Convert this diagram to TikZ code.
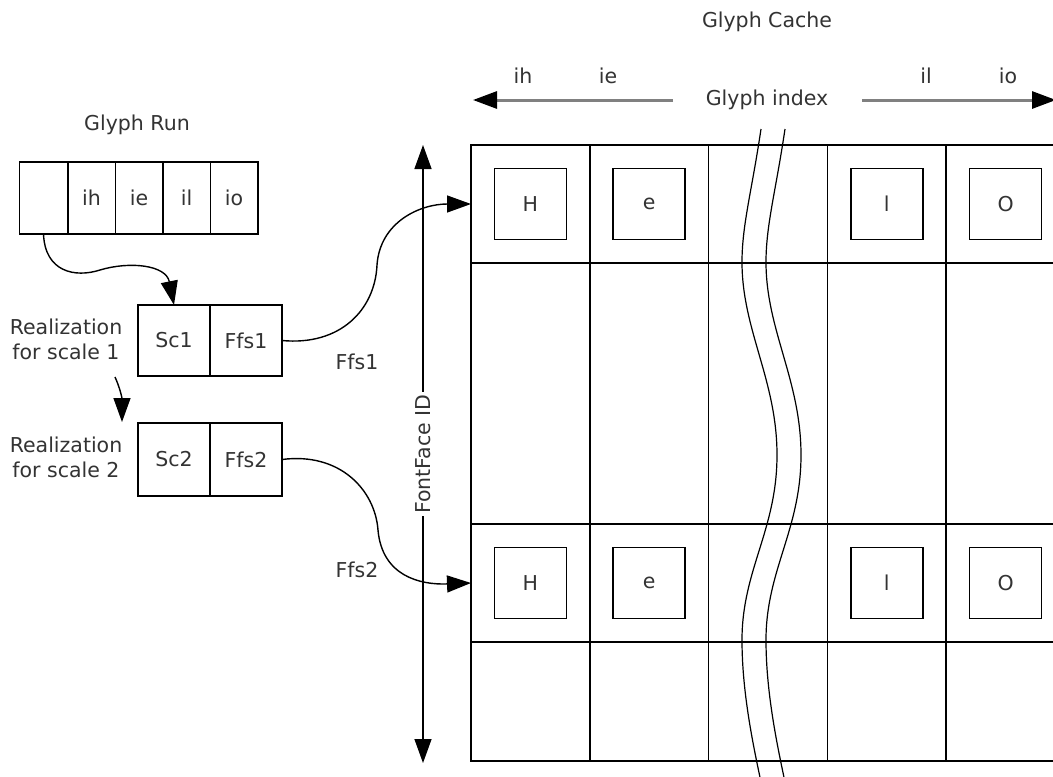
\documentclass[tikz,border=0pt]{standalone}
\usepackage{fontspec}
\setmainfont{DejaVu Sans}
\usetikzlibrary{arrows.meta}
\definecolor{txt}{HTML}{333333}
\definecolor{idx}{HTML}{808080}
\begin{document}
\begin{tikzpicture}[x=1pt,y=-1pt,
  every node/.style={font=\fontsize{20.5}{25}\selectfont, text=txt},
  cell/.style={draw=black, line width=1.5pt, minimum width=#1, minimum height=72pt, inner sep=0pt, outer sep=0pt},
  gcell/.style={draw=black, line width=1.6pt, minimum width=118.8pt, inner sep=0pt, outer sep=0pt},
  gbox/.style={draw=black, line width=1.5pt, minimum width=72pt, minimum height=71pt, inner sep=0pt, outer sep=0pt},
  conn/.style={draw=black, line width=1.4pt, -{Triangle[length=24pt,width=17pt]}},
  dblconn/.style={draw=black, line width=1.4pt, {Triangle[length=24pt,width=17pt]}-{Triangle[length=24pt,width=17pt]}},
  idxconn/.style={draw=idx, line width=3pt, -{Triangle[length=24pt,width=17pt,color=black]}},
  wave/.style={draw=black, line width=1.2pt},
  lbl/.style={inner sep=0pt}
]
\useasboundingbox[fill=white] (0,0) rectangle (1053,777);

% titles
\node[lbl] (gruntitle) at (137,125) {Glyph Run};
\node[lbl] (gcachetitle) at (767,22) {Glyph Cache};

% glyph run cells
\node[cell=48pt] (gr0) at (43.5,198) {};
\node[cell=47.5pt] (gr1) at (91.5,198) {ih};
\node[cell=47.5pt] (gr2) at (139,198) {ie};
\node[cell=47.5pt] (gr3) at (186.5,198) {il};
\node[cell=47.5pt] (gr4) at (234,198) {io};

% realizations
\node[cell=72pt, minimum height=71pt] (sc1) at (174,340.5) {Sc1};
\node[cell=72pt, minimum height=71pt] (ffs1) at (246,340.5) {Ffs1};
\node[cell=72pt, minimum height=73pt] (sc2) at (174,459.5) {Sc2};
\node[cell=72pt, minimum height=73pt] (ffs2) at (246,459.5) {Ffs2};

\node[lbl, align=center] (real1) at (66,339.5) {Realization\\for scale 1};
\node[lbl, align=center] (real2) at (66,457.5) {Realization\\for scale 2};

\node[lbl] (ffs1lbl) at (357,362) {Ffs1};
\node[lbl] (ffs2lbl) at (357,570) {Ffs2};

% grid
\foreach \c in {0,...,4} {
  \node[gcell, minimum height=118pt] (ga\c) at ({471+118.8*\c+59.4},204) {};
  \node[gcell, minimum height=261pt] (gb\c) at ({471+118.8*\c+59.4},393.5) {};
  \node[gcell, minimum height=118pt] (gc\c) at ({471+118.8*\c+59.4},583) {};
  \node[gcell, minimum height=119pt] (gd\c) at ({471+118.8*\c+59.4},701.5) {};
}
\node[gbox] (h1) at (ga0) {H};
\node[gbox] (e1) at (ga1) {e};
\node[gbox] (l1) at (ga3) {l};
\node[gbox] (o1) at (ga4) {O};
\node[gbox] (h2) at (gc0) {H};
\node[gbox] (e2) at (gc1) {e};
\node[gbox] (l2) at (gc3) {l};
\node[gbox] (o2) at (gc4) {O};

% break lines
\draw[wave] (761,129) .. controls (752,190) and (742,225) .. (742,262)
  .. controls (742,330) and (777,380) .. (777,455)
  .. controls (777,530) and (742,570) .. (742,640)
  .. controls (742,690) and (752,740) .. (761,782);
\draw[wave] (785,129) .. controls (776,190) and (766,225) .. (766,262)
  .. controls (766,330) and (801,380) .. (801,455)
  .. controls (801,530) and (766,570) .. (766,640)
  .. controls (766,690) and (776,740) .. (785,782);

% glyph index axis
\node[lbl] (gidx) at (767,100) {Glyph index};
\coordinate (gidxl0) at (673,100);
\coordinate (gidxl1) at (473,100);
\coordinate (gidxr0) at (862,100);
\coordinate (gidxr1) at (1056,100);
\draw[idxconn] (gidxl0) -- (gidxl1);
\draw[idxconn] (gidxr0) -- (gidxr1);
\node[lbl] (tih) at (523,76) {ih};
\node[lbl] (tie) at (608,76) {ie};
\node[lbl] (til) at (926,76) {il};
\node[lbl] (tio) at (1008,76) {io};

% fontface axis
\coordinate (fidtop) at (423,145);
\coordinate (fidbot) at (423,763);
\draw[dblconn] (fidtop) -- node[fill=white, rotate=90, inner sep=2pt] (fid) {FontFace ID} (fidbot);

% connectors
\draw[conn] (gr0.south) .. controls (45,272) and (75,278) .. (100,270)
  .. controls (130,261) and (166,265) .. (sc1.north);
\coordinate (r1a) at (115,377);
\coordinate (r1b) at (122,422);
\draw[conn] (r1a) .. controls (120,388) and (122,398) .. (r1b);
\draw[conn] (ffs1.east) .. controls (340,346) and (375,310) .. (377,265)
  .. controls (380,222) and (420,204) .. (ga0.west);
\draw[conn] (ffs2.east) .. controls (340,452) and (375,490) .. (378,530)
  .. controls (382,576) and (420,585) .. (gc0.west);
\end{tikzpicture}
\end{document}
